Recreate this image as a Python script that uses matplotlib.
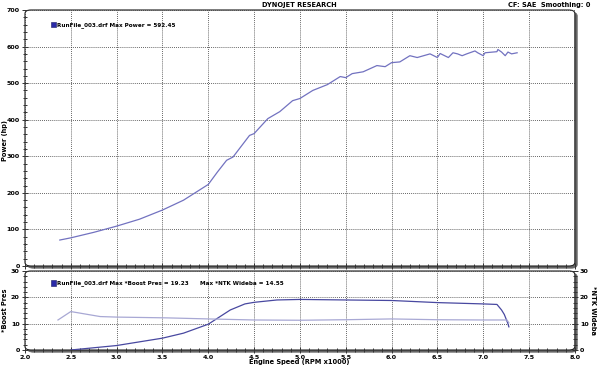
import matplotlib.pyplot as plt
import numpy as np
from matplotlib.ticker import MultipleLocator
from matplotlib.patches import FancyBboxPatch, Rectangle

# power run (rpm x1000, hp)
rpm_pw = [2.38, 2.50, 2.75, 3.00, 3.25, 3.50, 3.73, 4.00, 4.10, 4.20, 4.27, 4.45,
          4.50, 4.65, 4.78, 4.92, 5.00, 5.14, 5.30, 5.44, 5.50, 5.57, 5.69, 5.84,
          5.93, 6.00, 6.09, 6.20, 6.28, 6.42, 6.50, 6.53, 6.62, 6.67, 6.72, 6.77,
          6.82, 6.91, 6.94, 7.00, 7.02, 7.15, 7.16, 7.20, 7.24, 7.27, 7.31, 7.37]
power = [71, 77, 92, 109, 128, 153, 180, 223, 257, 289, 298, 357,
         362, 403, 422, 452, 458, 480, 496, 518, 515, 526, 531, 548,
         545, 556, 558, 575, 570, 580, 570, 581, 570, 583, 580, 575,
         580, 588, 583, 575, 583, 586, 592, 585, 575, 585, 580, 583]

# boost pressure
rpm_boost = [2.50, 3.00, 3.50, 3.73, 4.00, 4.24, 4.40, 4.50, 4.75, 5.00, 5.50,
             6.00, 6.50, 7.00, 7.15, 7.20, 7.23, 7.27, 7.28]
boost = [0.0, 1.7, 4.5, 6.4, 9.8, 15.2, 17.5, 18.1, 19.0, 19.2, 19.0,
         18.8, 18.0, 17.5, 17.3, 15.2, 13.5, 10.0, 8.8]

# wideband AFR
rpm_afr = [2.36, 2.50, 2.82, 3.00, 3.55, 4.00, 4.50, 5.00, 5.50, 6.00, 6.50,
           7.00, 7.26, 7.28]
afr = [11.4, 14.6, 12.7, 12.5, 12.2, 11.8, 11.4, 11.3, 11.5, 11.8, 11.5,
       11.4, 11.4, 10.3]

xticks = [2.0, 2.5, 3.0, 3.5, 4.0, 4.5, 5.0, 5.5, 6.0, 6.5, 7.0, 7.5, 8.0]

tfs = 4.6   # tick labels
lfs = 4.1   # legends
afs = 4.8   # axis labels / header

fig = plt.figure(figsize=(5.99, 3.67), dpi=100)
fig.patch.set_facecolor('white')

ax1 = fig.add_axes([0.0417, 0.2752, 0.918, 0.6976])
ax2 = fig.add_axes([0.0417, 0.0463, 0.918, 0.2153])
ax3 = ax2.twinx()


def style_ticks(a):
    a.tick_params(which='both', direction='inout', labelsize=tfs, width=0.7,
                  color='#333333', pad=1.2)
    a.tick_params(which='major', length=5)
    a.tick_params(which='minor', length=3)
    for s in a.spines.values():
        s.set_visible(False)
    a.set_facecolor('none')


for a in (ax1, ax2):
    a.set_xlim(2.0, 8.0)
    a.set_xticks(xticks)
    a.xaxis.set_minor_locator(MultipleLocator(0.1))
    a.grid(True, which='major', color='#333333', linestyle=(0, (1.2, 1.5)), linewidth=0.55)
    style_ticks(a)

ax1.set_ylim(0, 700)
ax1.yaxis.set_major_locator(MultipleLocator(100))
ax1.yaxis.set_minor_locator(MultipleLocator(20))
ax1.tick_params(axis='x', labelbottom=False)
ax1.plot(rpm_pw, power, color='#7272c0', linewidth=0.9)
ax1.set_ylabel('Power (hp)', fontsize=afs, fontweight='bold')
ax1.yaxis.set_label_coords(-0.031, 0.49)

ax2.set_ylim(0, 30)
ax2.yaxis.set_major_locator(MultipleLocator(10))
ax2.yaxis.set_minor_locator(MultipleLocator(2))
ax2.plot(rpm_boost, boost, color='#4848a0', linewidth=0.9)
ax2.set_ylabel('*Boost Pres', fontsize=afs, fontweight='bold')
ax2.yaxis.set_label_coords(-0.031, 0.5)

ax3.set_ylim(0, 30)
ax3.yaxis.set_major_locator(MultipleLocator(10))
ax3.yaxis.set_minor_locator(MultipleLocator(2))
ax3.plot(rpm_afr, afr, color='#a8a8d4', linewidth=0.9)
style_ticks(ax3)
ax3.set_ylabel('*NTK Wideba', fontsize=afs, fontweight='bold', rotation=270, va='center')
ax3.yaxis.set_label_coords(1.033, 0.5)

for a in (ax1, ax2, ax3):
    for lab in a.get_xticklabels() + a.get_yticklabels():
        lab.set_fontweight('bold')

fig.text(0.5, 0.006, 'Engine Speed (RPM x1000)', ha='center', va='bottom',
         fontsize=afs, fontweight='bold')

# rounded frames with drop shadow
for a in (ax1, ax2):
    bb = a.get_position()
    sh = FancyBboxPatch((bb.x0 + 0.004, bb.y0 - 0.006), bb.width, bb.height,
                        boxstyle='round,pad=0,rounding_size=0.01',
                        transform=fig.transFigure, facecolor='#666666',
                        edgecolor='#666666', linewidth=0.5, zorder=-2)
    fr = FancyBboxPatch((bb.x0, bb.y0), bb.width, bb.height,
                        boxstyle='round,pad=0,rounding_size=0.01',
                        transform=fig.transFigure, facecolor='white',
                        edgecolor='#222222', linewidth=0.8, zorder=-1)
    fig.patches.append(sh)
    fig.patches.append(fr)

# legends
for a, yc, h in ((ax1, 0.942, 0.02), (ax2, 0.848, 0.065)):
    a.add_patch(Rectangle((0.047, yc - h / 2), 0.009, h, transform=a.transAxes,
                          facecolor='#2a2aa8', edgecolor='#1a1a60', linewidth=0.4,
                          clip_on=False, zorder=5))
ax1.text(0.059, 0.942, 'RunFile_003.drf Max Power = 592.45', transform=ax1.transAxes,
         fontsize=lfs, fontweight='bold', va='center')
ax2.text(0.059, 0.848, 'RunFile_003.drf Max *Boost Pres = 19.23', transform=ax2.transAxes,
         fontsize=lfs, fontweight='bold', va='center')
ax2.text(0.318, 0.848, 'Max *NTK Wideba = 14.55', transform=ax2.transAxes,
         fontsize=lfs, fontweight='bold', va='center')

fig.text(0.5, 0.986, 'DYNOJET RESEARCH', ha='center', va='center', fontsize=afs, fontweight='bold')
fig.text(0.986, 0.986, 'CF: SAE  Smoothing: 0', ha='right', va='center', fontsize=afs, fontweight='bold')

fig.savefig('out.png', dpi=100)
